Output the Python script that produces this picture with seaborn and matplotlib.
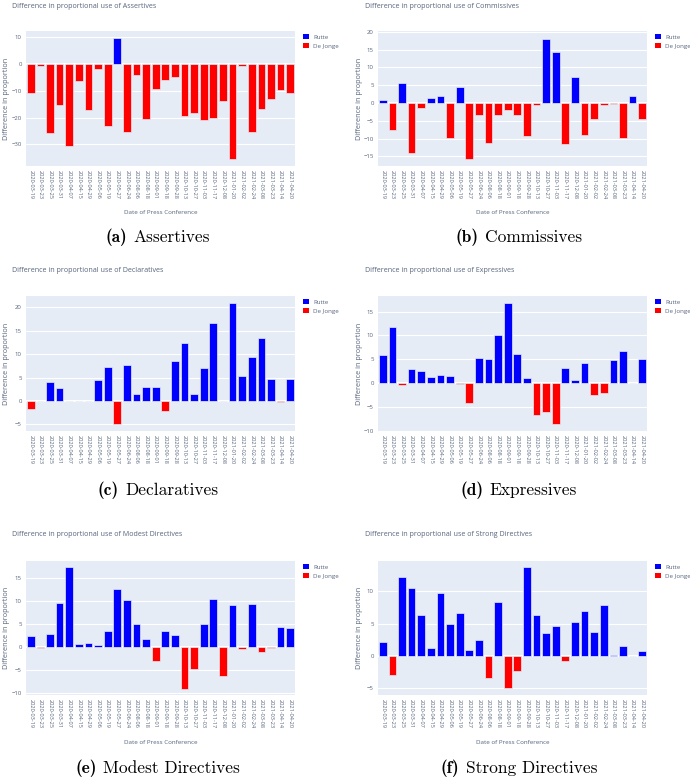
import matplotlib
matplotlib.use("Agg")
import matplotlib.pyplot as plt
from matplotlib.patches import Patch
import seaborn as sns
import pandas as pd

# ---------------- data ----------------
dates = ["2020-03-19", "2020-03-23", "2020-03-25", "2020-03-31", "2020-04-07",
         "2020-04-15", "2020-04-29", "2020-05-06", "2020-05-19", "2020-05-27",
         "2020-06-24", "2020-08-06", "2020-08-18", "2020-09-01", "2020-09-18",
         "2020-09-28", "2020-10-13", "2020-10-27", "2020-11-03", "2020-11-17",
         "2020-12-08", "2021-01-20", "2021-02-02", "2021-02-24", "2021-03-08",
         "2021-03-23", "2021-04-14", "2021-04-20"]

assertives = [-10.8, -0.9, -25.8, -15.3, -30.7, -6.3, -17.3, -2.1, -23.0, 9.7,
              -25.3, -4.0, -20.6, -9.3, -6.2, -4.8, -19.5, -18.3, -21.0, -20.1,
              -14.0, -35.4, -0.9, -25.3, -16.8, -13.2, -9.6, -10.7]
commissives = [0.9, -7.5, 5.7, -14.1, -1.4, 1.4, 1.9, -9.7, 4.6, -15.8,
               -3.3, -11.2, -3.3, -2.0, -3.3, -9.3, -0.6, 18.0, 14.2, -11.4,
               7.2, -8.9, -4.6, -0.5, -0.4, -9.9, 2.0, -4.4]
declaratives = [-1.6, 0.0, 4.0, 2.8, 0.0, 0.0, 0.0, 4.5, 7.2, -4.8,
                7.7, 1.5, 3.0, 3.0, -2.2, 8.5, 12.4, 1.6, 7.0, 16.6,
                0.0, 20.9, 5.4, 9.4, 13.5, 4.7, -0.3, 4.6]
expressives = [5.8, 11.7, -0.5, 2.9, 2.5, 1.3, 1.7, 1.4, -0.15, -4.2,
               5.3, 5.1, 10.1, 16.9, 6.0, 1.1, -6.7, -6.1, -8.7, 3.1,
               0.6, 4.2, -2.5, -2.1, 4.9, 6.7, 0.0, 5.1]
modest_directives = [2.4, -0.15, 2.7, 9.6, 17.2, 0.65, 0.85, 0.4, 3.5, 12.6,
                     10.2, 4.9, 1.7, -3.0, 3.5, 2.6, -9.0, -4.7, 4.9, 10.3,
                     -6.3, 9.1, -0.4, 9.4, -1.2, -0.2, 4.4, 4.2]
strong_directives = [2.2, -2.9, 12.2, 10.5, 6.3, 1.3, 9.7, 4.9, 6.6, 0.9,
                     2.5, -3.4, 8.3, -4.9, -2.4, 13.7, 6.4, 3.6, 4.7, -0.8,
                     5.3, 6.9, 3.7, 7.9, 0.2, 1.6, 0.0, 0.7]

speakers = ["Rutte", "De Jonge"]
speaker_colors = {"Rutte": "blue", "De Jonge": "red"}

panels = [
    ("Assertives", "(a)", assertives, (-38.0, 12.2), [-30, -20, -10, 0, 10]),
    ("Commissives", "(b)", commissives, (-17.7, 20.2), [-15, -10, -5, 0, 5, 10, 15, 20]),
    ("Declaratives", "(c)", declaratives, (-6.4, 22.4), [-5, 0, 5, 10, 15, 20]),
    ("Expressives", "(d)", expressives, (-10.1, 18.3), [-10, -5, 0, 5, 10, 15]),
    ("Modest Directives", "(e)", modest_directives, (-10.4, 18.6), [-10, -5, 0, 5, 10, 15]),
    ("Strong Directives", "(f)", strong_directives, (-6.05, 14.7), [-5, 0, 5, 10]),
]

# ---------------- layout (pixels) ----------------
W, H = 690, 778
sns.set_theme(style="white")
plt.rcParams["font.family"] = ["Open Sans", "DejaVu Sans"]

fig = plt.figure(figsize=(W / 100, H / 100), dpi=100)
fig.patch.set_facecolor("white")

col_x = [(26, 295), (378, 647)]
row_y = [(31, 166), (296, 431), (561, 695)]
title_y = [6, 270, 535]
title_x = [12, 365]
ylabel_x = [3, 356]
legend_y = [38, 303, 568]
legend_x = [303, 655]
xlabel_y = [213, None, 743]
caption_y = [237, 490, 768]
caption_cx = [158, 519]

txt_color = "#56657d"
bg = "#E5ECF6"

renderer = fig.canvas.get_renderer()

for i, (name, letter, vals, ylim, yticks) in enumerate(panels):
    r, c = divmod(i, 2)
    x0, x1 = col_x[c]
    y0, y1 = row_y[r]
    ax = fig.add_axes([x0 / W, 1 - y1 / H, (x1 - x0) / W, (y1 - y0) / H])
    df = pd.DataFrame({
        "date": dates,
        "value": vals,
        "speaker": ["Rutte" if v >= 0 else "De Jonge" for v in vals],
    })
    sns.barplot(data=df, x="date", y="value", hue="speaker", hue_order=speakers,
                palette=speaker_colors, order=dates, dodge=False, width=0.8,
                saturation=1, edgecolor=bg, linewidth=0.5, legend=False, ax=ax,
                zorder=3)
    ax.set_facecolor(bg)
    for s in ax.spines.values():
        s.set_visible(False)
    ax.set_xlim(-0.5, len(dates) - 0.5)
    ax.set_ylim(*ylim)
    ax.set_yticks(yticks)
    ax.set_yticklabels([str(t) if t >= 0 else "\u2212" + str(-t) for t in yticks])
    ax.grid(axis="y", color="white", linewidth=0.8, zorder=0)
    ax.set_axisbelow(True)
    ax.axhline(0, color="white", linewidth=1.4, zorder=2)
    ax.tick_params(axis="both", length=0, labelsize=4.3, colors=txt_color, pad=3)
    ax.set_xticks(range(len(dates)))
    ax.set_xticklabels(dates, rotation=-90, ha="center", va="top",
                       fontsize=4.1, color=txt_color)
    ax.set_xlabel("")
    ax.set_ylabel("")

    # title
    fig.text(title_x[c] / W, 1 - title_y[r] / H,
             f"Difference in proportional use of {name}",
             fontsize=5.1, color=txt_color, ha="left", va="center")
    # y label
    fig.text(ylabel_x[c] / W, 1 - ((y0 + y1) / 2) / H, "Difference in proportion",
             fontsize=5.2, color=txt_color, rotation=90, ha="left", va="center")
    # x label
    if xlabel_y[r] is not None:
        fig.text(((x0 + x1) / 2) / W, 1 - xlabel_y[r] / H, "Date of Press Conference",
                 fontsize=4.5, color=txt_color, ha="center", va="center")
    # legend
    handles = [Patch(facecolor=speaker_colors[s], edgecolor="none") for s in speakers]
    ax.legend(handles, speakers, loc="upper left",
              bbox_to_anchor=(legend_x[c] / W, 1 - (legend_y[r] - 4) / H),
              bbox_transform=fig.transFigure, frameon=False, fontsize=4.4,
              handlelength=0.9, handleheight=0.9, handletextpad=0.8,
              labelspacing=0.6, borderaxespad=0, borderpad=0,
              labelcolor=txt_color)

    # caption: bold letter + roman name (Computer Modern)
    cy = 1 - caption_y[r] / H
    t1 = fig.text(0, cy, letter, family="cmb10", fontsize=12.5, color="black",
                  ha="left", va="center")
    t2 = fig.text(0, cy, name, family="cmr10", fontsize=12.5, color="black",
                  ha="left", va="center")
    w1 = t1.get_window_extent(renderer).width
    w2 = t2.get_window_extent(renderer).width
    gap = 6
    total = w1 + gap + w2
    start = caption_cx[c] - total / 2
    t1.set_x(start / W)
    t2.set_x((start + w1 + gap) / W)

fig.savefig("out.png", dpi=100, facecolor="white")
